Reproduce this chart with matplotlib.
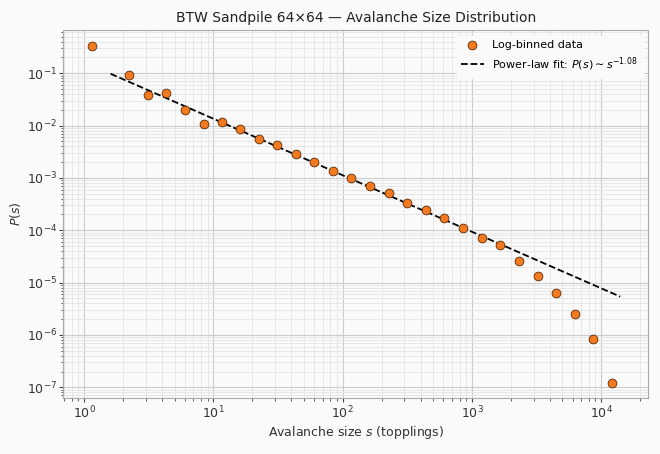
import matplotlib
matplotlib.use("Agg")
import matplotlib.pyplot as plt
import numpy as np

# log-binned avalanche sizes (bin centres) and probabilities
sizes = [1.15, 2.23, 3.13, 4.3, 6.04, 8.47, 11.7, 16.1, 22.6, 31.1, 43.6, 60.0,
         84.0, 116, 163, 228, 315, 442, 608, 853, 1197, 1649, 2313, 3245,
         4470, 6270, 8650, 12100]
probs = [0.33, 0.092, 0.038, 0.041, 0.0195, 0.0107, 0.0118, 0.0087, 0.0056,
         0.0043, 0.0028, 0.0020, 0.00137, 0.00100, 0.00070, 0.00052, 0.00033,
         0.000245, 0.000172, 0.000110, 7.2e-5, 5.2e-5, 2.6e-5, 1.32e-5,
         6.3e-6, 2.5e-6, 8.5e-7, 1.22e-7]

# fitted power law P(s) = A * s^-tau
fit_tau = 1.08
fit_amp = 0.162
fit_smin, fit_smax = 1.6, 14000

bg = "#fafafa"
fig, ax = plt.subplots(figsize=(6.6, 4.54), dpi=100)
fig.patch.set_facecolor(bg)
ax.set_facecolor(bg)

ax.scatter(sizes, probs, s=40, color="#f47a1f", edgecolors="#5a2a08",
           linewidths=0.6, zorder=3, label="Log-binned data")

s_fit = np.logspace(np.log10(fit_smin), np.log10(fit_smax), 100)
ax.plot(s_fit, fit_amp * s_fit ** (-fit_tau), "k--", lw=1.3, zorder=2,
        label=r"Power-law fit: $P(s) \sim s^{-%.2f}$" % fit_tau)

ax.set_xscale("log")
ax.set_yscale("log")
ax.set_xlim(0.69, 23000)
ax.set_ylim(6.2e-8, 0.67)

ax.grid(True, which="major", color="#cccccc", lw=0.8)
ax.grid(True, which="minor", color="#e4e4e4", lw=0.6)
ax.set_axisbelow(True)
for sp in ax.spines.values():
    sp.set_color("#aaaaaa")
ax.tick_params(which="major", length=3, pad=1.5)
ax.tick_params(which="minor", length=1.8)
ax.tick_params(which="both", color="#444444", labelsize=9, labelcolor="#333333")

ax.set_xlabel("Avalanche size $s$ (topplings)", fontsize=9, color="#333333",
              labelpad=2)
ax.set_ylabel("$P(s)$", fontsize=9, color="#333333", labelpad=3)
ax.set_title("BTW Sandpile 64×64 — Avalanche Size Distribution", fontsize=10,
             color="#222222")

leg = ax.legend(loc="upper right", fontsize=8, facecolor=bg, edgecolor=bg,
                framealpha=1)

fig.subplots_adjust(left=0.096, right=0.982, top=0.934, bottom=0.123)
fig.savefig("out.png", dpi=100, facecolor=bg)
